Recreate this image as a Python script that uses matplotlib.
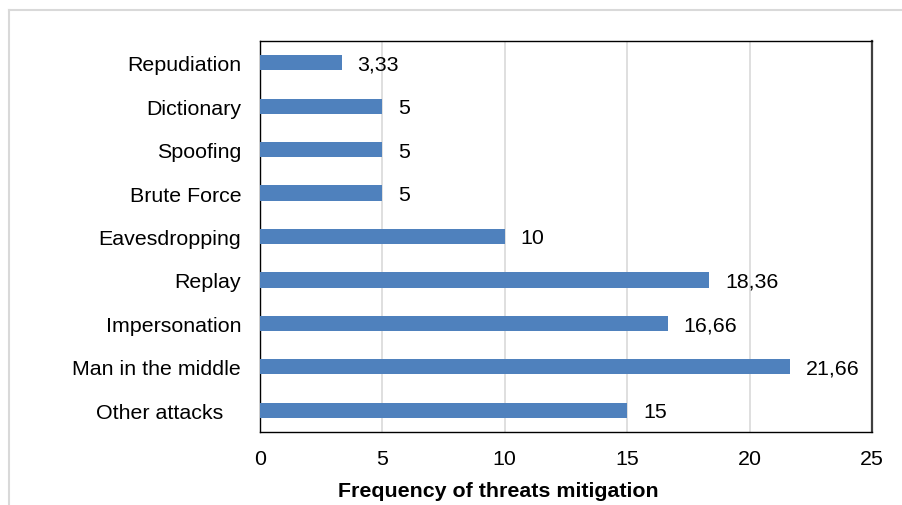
import matplotlib.pyplot as plt
from matplotlib.lines import Line2D

plt.rcParams['font.family'] = ['Liberation Sans', 'DejaVu Sans']

# categories from bottom to top, as in the chart
attaques = ["Other attacks   ", "Man in the middle", "Impersonation", "Replay",
            "Eavesdropping", "Brute Force", "Spoofing", "Dictionary", "Repudiation"]
frequences = [15, 21.66, 16.66, 18.36, 10, 5, 5, 5, 3.33]
etiquettes = ["15", "21,66", "16,66", "18,36", "10", "5", "5", "5", "3,33"]
graduations = [0, 5, 10, 15, 20, 25]

taille = 15.4

fig = plt.figure(figsize=(9.03, 5.06), dpi=100)
ax = fig.add_axes([260 / 903, 1 - 433 / 506, 612 / 903, 391 / 506])

positions = list(range(len(attaques)))
ax.barh(positions, frequences, height=0.35, color="#4F81BD", zorder=3)

for y, v, txt in zip(positions, frequences, etiquettes):
    ax.annotate(txt, xy=(v, y), xytext=(11.5, -1), textcoords="offset points",
                ha="left", va="center", fontsize=taille, color="black")

ax.set_xlim(0, 25)
ax.set_ylim(-0.5, len(attaques) - 0.5)
ax.set_xticks(graduations)
ax.set_xticklabels([str(g) for g in graduations], fontsize=taille)
ax.set_yticks(positions)
ax.set_yticklabels(attaques, fontsize=taille)
ax.tick_params(axis="both", length=0)
ax.tick_params(axis="x", pad=12)
ax.tick_params(axis="y", pad=13.5)
ax.xaxis.grid(True, color="#D9D9D9", linewidth=1.2, zorder=0)
ax.set_axisbelow(True)
for s in ax.spines.values():
    s.set_color("black")
    s.set_linewidth(1.0)
ax.spines["right"].set_color("#404040")
ax.spines["right"].set_linewidth(1.6)

# titre de l'axe x, décalé vers la gauche comme dans l'original
fig.text(498 / 903, 1 - 497 / 506, "Frequency of threats mitigation",
         fontsize=taille, fontweight="bold", ha="center", va="baseline")

# cadre gris autour du graphique
fig.add_artist(Line2D([9 / 903, 1], [1 - 11 / 506, 1 - 11 / 506], color="#D9D9D9", linewidth=1.5))
fig.add_artist(Line2D([9 / 903, 9 / 903], [0, 1 - 11 / 506], color="#D9D9D9", linewidth=1.5))

plt.savefig("out.png", dpi=100)
plt.close()
